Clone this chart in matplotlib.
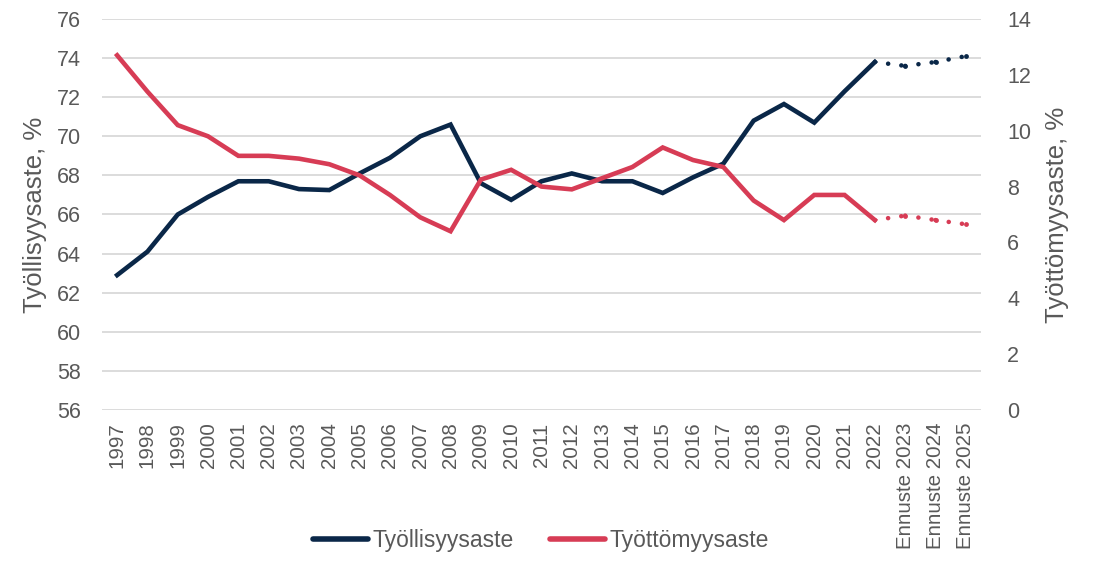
import matplotlib
matplotlib.use("Agg")
import matplotlib.pyplot as plt
from matplotlib.lines import Line2D

plt.rcParams['font.family'] = ['Liberation Sans', 'DejaVu Sans']

years = ["1997", "1998", "1999", "2000", "2001", "2002", "2003", "2004", "2005",
         "2006", "2007", "2008", "2009", "2010", "2011", "2012", "2013", "2014",
         "2015", "2016", "2017", "2018", "2019", "2020", "2021", "2022",
         "Ennuste 2023", "Ennuste 2024", "Ennuste 2025"]

employment = [62.9, 64.1, 66.0, 66.9, 67.7, 67.7, 67.3, 67.25, 68.1, 68.9, 70.0, 70.6,
              67.6, 66.75, 67.7, 68.1, 67.7, 67.7, 67.1, 67.9, 68.6, 70.8, 71.65, 70.7,
              72.3, 73.8, 73.6, 73.8, 74.1]
unemployment = [12.7, 11.4, 10.2, 9.8, 9.1, 9.1, 9.0, 8.8, 8.4, 7.7, 6.9, 6.4,
                8.25, 8.6, 8.0, 7.9, 8.3, 8.7, 9.4, 8.95, 8.7, 7.5, 6.8, 7.7,
                7.7, 6.8, 6.96, 6.8, 6.65]
n_actual = 26  # 1997..2022

navy = '#0a2748'
red = '#d73c55'
grid = '#d9d9d9'
txt = '#595959'
fs_x = 14.8
fs_y = 15.5
fs_lab = 18.5
fs_leg = 16.5

fig = plt.figure(figsize=(10.93, 5.72), dpi=100)
ax = fig.add_axes([0.0933, 0.2832, 0.8042, 0.6836])
ax2 = ax.twinx()

x = list(range(len(years)))
lw = 3.3
dot = (0, (0.01, 2.9))


def draw(a, vals, color):
    a.plot(x[:n_actual], vals[:n_actual], color=color, lw=lw,
           solid_joinstyle='miter', zorder=3)
    # forecast: each segment dotted separately (like the original)
    for i in range(n_actual - 1, len(x) - 1):
        a.plot(x[i:i + 2], vals[i:i + 2], color=color, lw=lw, linestyle=dot,
               dash_capstyle='round', zorder=3)
    a.plot(x[n_actual:], vals[n_actual:], linestyle='none', marker='o',
           markersize=lw * 1.05, color=color, markeredgewidth=0, zorder=3)


draw(ax, employment, navy)
draw(ax2, unemployment, red)

ax.set_xlim(-0.5, len(years) - 0.5)
ax.set_ylim(56, 76)
ax.set_yticks(range(56, 77, 2))
ax2.set_ylim(0, 14)
ax2.set_yticks(range(0, 15, 2))

ax.set_xticks(x)
ax.set_xticklabels(years, rotation=90, fontsize=fs_x, color=txt)
ax.tick_params(axis='x', length=0, pad=9)
ax.tick_params(axis='y', length=0, pad=15, labelsize=fs_y, labelcolor=txt)
ax2.tick_params(axis='y', length=0, pad=19, labelsize=fs_y, labelcolor=txt)

ax.yaxis.grid(True, color=grid, lw=1.3)
ax.set_axisbelow(True)
for a in (ax, ax2):
    for s in a.spines.values():
        s.set_visible(False)

ax.set_ylabel("Työllisyysaste, %", fontsize=fs_lab, color=txt, labelpad=7)
ax2.set_ylabel("Työttömyysaste, %", fontsize=fs_lab, color=txt, labelpad=10)

handles = [Line2D([], [], color=navy, lw=4.0, solid_capstyle='round'),
           Line2D([], [], color=red, lw=4.0, solid_capstyle='round')]
fig.legend(handles, ["Työllisyysaste", "Työttömyysaste"], loc='center',
           bbox_to_anchor=(0.495, 0.055), ncol=2, frameon=False, fontsize=fs_leg,
           labelcolor=txt, handlelength=2.4, handletextpad=0.2, columnspacing=1.6)

fig.savefig("out.png", dpi=100, facecolor='white')
